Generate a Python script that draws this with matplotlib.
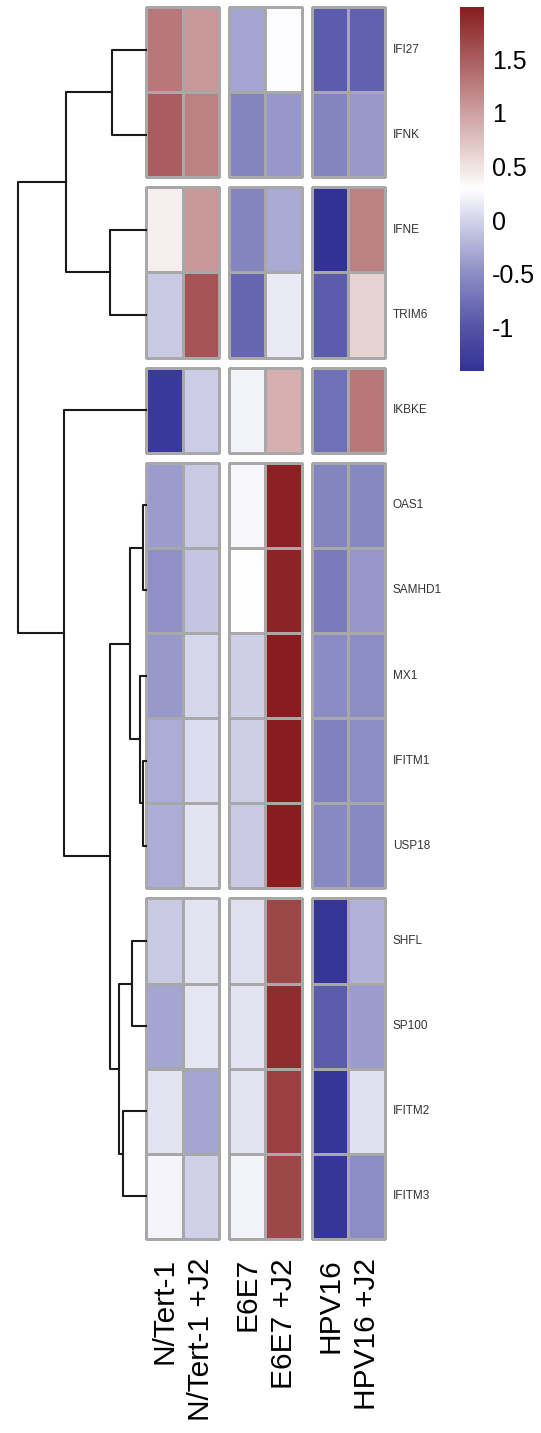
import numpy as np
import matplotlib
matplotlib.use("Agg")
import matplotlib.pyplot as plt
from matplotlib.colors import LinearSegmentedColormap, Normalize
from matplotlib.cm import ScalarMappable

plt.rcParams["font.family"] = ["Liberation Sans", "DejaVu Sans"]
plt.rcParams["axes.unicode_minus"] = False

genes = ["IFI27", "IFNK", "IFNE", "TRIM6", "IKBKE", "OAS1", "SAMHD1", "MX1",
         "IFITM1", "USP18", "SHFL", "SP100", "IFITM2", "IFITM3"]
samples = ["N/Tert-1", "N/Tert-1 +J2", "E6E7", "E6E7 +J2", "HPV16", "HPV16 +J2"]

# row-scaled expression (z-scores), one list per sample, in gene order above
ntert1 = [1.31, 1.50, 0.41, -0.08, -1.33, -0.40, -0.48, -0.42, -0.28, -0.28, -0.08, -0.33, 0.10, 0.22]
ntert1_j2 = [1.06, 1.22, 1.06, 1.57, -0.05, -0.08, -0.10, 0.02, 0.06, 0.10, 0.10, 0.12, -0.33, -0.02]
e6e7 = [-0.33, -0.58, -0.58, -0.85, 0.20, 0.24, 0.29, -0.04, -0.04, -0.08, 0.08, 0.10, 0.10, 0.20]
e6e7_j2 = [0.27, -0.44, -0.30, 0.15, 0.89, 1.95, 1.93, 1.99, 1.99, 1.98, 1.66, 1.87, 1.70, 1.66]
hpv16 = [-0.92, -0.58, -1.41, -0.92, -0.75, -0.58, -0.66, -0.52, -0.60, -0.54, -1.35, -0.92, -1.35, -1.35]
hpv16_j2 = [-0.88, -0.42, 1.22, 0.63, 1.31, -0.55, -0.44, -0.50, -0.50, -0.54, -0.24, -0.40, 0.08, -0.50]

# hierarchical clustering of the genes: (left node, right node, merge height)
# leaves are 0..13, each merge creates the next node id
merges = [
    (0, 1, 0.85),      # 14
    (2, 3, 0.90),      # 15
    (14, 15, 2.00),    # 16
    (5, 6, 0.075),     # 17
    (8, 9, 0.0875),    # 18
    (7, 18, 0.15),     # 19
    (17, 19, 0.40),    # 20
    (10, 11, 0.35),    # 21
    (12, 13, 0.575),   # 22
    (21, 22, 0.675),   # 23
    (20, 23, 0.90),    # 24
    (4, 24, 2.05),     # 25
    (16, 25, 3.20),    # 26
]

row_groups = [[0, 1], [2, 3], [4], [5, 6, 7, 8, 9], [10, 11, 12, 13]]
col_groups = [[0, 1], [2, 3], [4, 5]]
cbar_ticks = [-1, -0.5, 0, 0.5, 1, 1.5]

mat = np.column_stack([ntert1, ntert1_j2, e6e7, e6e7_j2, hpv16, hpv16_j2])

cmap = LinearSegmentedColormap.from_list("bwr_ph", [
    (0.0, "#323296"),
    (0.12, "#5454a8"),
    (0.27, "#8e8ec6"),
    (0.42, "#d6d6eb"),
    (0.5, "#ffffff"),
    (1.0, "#881c1e"),
], N=256)
norm = Normalize(vmin=mat.min(), vmax=mat.max())

W, H = 541, 1433
fig = plt.figure(figsize=(W / 100, H / 100), dpi=100)


def px_axes(x0, y0, x1, y1):
    return fig.add_axes([x0 / W, 1 - y1 / H, (x1 - x0) / W, (y1 - y0) / H])


heat_l, heat_r, heat_t, heat_b = 146, 385, 7, 1239
cell_w = 36.5
cell_h = 85.1
gap_x = 10 / cell_w
gap_y = 10 / cell_h
x_max = len(samples) + (len(col_groups) - 1) * gap_x
y_max = len(genes) + (len(row_groups) - 1) * gap_y

# heatmap, split into blocks
ax = px_axes(heat_l, heat_t, heat_r, heat_b)
ax.set_xlim(0, x_max)
ax.set_ylim(y_max, 0)
ax.axis("off")

row_pos = {}
for gi, rows in enumerate(row_groups):
    y0 = rows[0] + gi * gap_y
    yedges = y0 + np.arange(len(rows) + 1)
    for k, r in enumerate(rows):
        row_pos[r] = y0 + k + 0.5
    for gj, cols in enumerate(col_groups):
        x0 = cols[0] + gj * gap_x
        xedges = x0 + np.arange(len(cols) + 1)
        qm = ax.pcolormesh(xedges, yedges, mat[np.ix_(rows, cols)], cmap=cmap, norm=norm,
                           edgecolors="#a8a8a8", linewidth=0.8)
        qm.set_clip_on(False)

# gene labels on the right
for r, g in enumerate(genes):
    ax.text(x_max + 8 / cell_w, row_pos[r], g, ha="left", va="center",
            fontsize=8.5, color="#333333")

# sample labels underneath
for gj, cols in enumerate(col_groups):
    for c in cols:
        ax.text(c + gj * gap_x + 0.5, y_max + 19 / cell_h, samples[c], rotation=90,
                ha="center", va="top", fontsize=21.5, color="black")

# row dendrogram
dax = px_axes(0, heat_t, heat_l, heat_b)
root_h = merges[-1][2]
dax.set_xlim(root_h * heat_l / (heat_l - 18), 0)
dax.set_ylim(y_max, 0)
dax.axis("off")

node_y = {r: row_pos[r] for r in range(len(genes))}
node_h = {r: 0.0 for r in range(len(genes))}
for i, (a, b, h) in enumerate(merges):
    nid = len(genes) + i
    dax.plot([node_h[a], h, h, node_h[b]], [node_y[a], node_y[a], node_y[b], node_y[b]],
             color="#1a1a1a", lw=1.5, clip_on=False)
    node_y[nid] = (node_y[a] + node_y[b]) / 2
    node_h[nid] = h

# colour key
cax = px_axes(460, 7, 484, 371)
sm = ScalarMappable(norm=norm, cmap=cmap)
cb = fig.colorbar(sm, cax=cax, ticks=cbar_ticks)
cb.outline.set_visible(False)
cb.set_ticklabels(["{:g}".format(t) for t in cbar_ticks])
cax.tick_params(length=0, pad=6, labelsize=18)

fig.savefig("out.png", dpi=100)
